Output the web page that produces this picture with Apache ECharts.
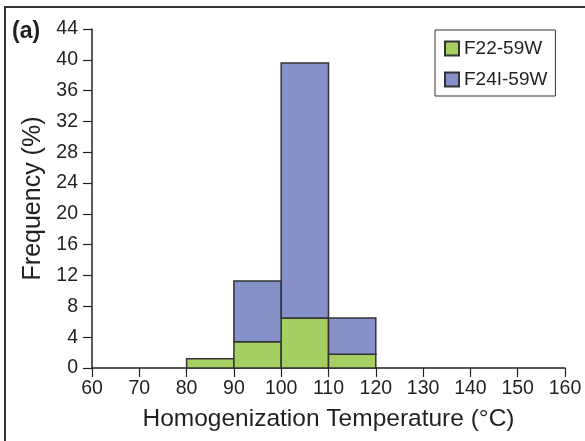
<!DOCTYPE html>
<html>
<head>
<meta charset="utf-8">
<script src="https://cdn.jsdelivr.net/npm/echarts@6/dist/echarts.min.js"></script>
<style>
  html, body { margin: 0; padding: 0; background: #fff; }
  #chart { width: 585px; height: 441px; }
</style>
</head>
<body>
<div id="chart"></div>
<script>
// histogram bins (°C) and frequencies (%)
const binLo = [80, 90, 100, 110];
const binHi = [90, 100, 110, 120];
const f22 = [1.2, 3.4, 6.5, 1.8];
const f24 = [0, 7.9, 33.1, 4.7];
const xTicks = [60, 70, 80, 90, 100, 110, 120, 130, 140, 150, 160];
const yTicks = [0, 4, 8, 12, 16, 20, 24, 28, 32, 36, 40, 44];

const FONT = 'Liberation Sans';
const TXT = '#231f20';
const green = '#a6cf62';
const blue = '#8591c8';

// stack the two series by hand: [lo, hi, base, top]
const greenData = binLo.map((lo, i) => [lo, binHi[i], 0, f22[i]]);
const blueData = binLo.map((lo, i) => [lo, binHi[i], f22[i], f22[i] + f24[i]]);

function renderBin(params, api) {
  const base = api.value(2), top = api.value(3);
  if (top <= base) return null;
  const p0 = api.coord([api.value(0), top]);
  const p1 = api.coord([api.value(1), base]);
  return {
    type: 'rect',
    shape: { x: p0[0], y: p0[1], width: p1[0] - p0[0], height: p1[1] - p0[1] },
    style: api.style()
  };
}

const chart = echarts.init(document.getElementById('chart'));
chart.setOption({
  animation: false,
  textStyle: { fontFamily: FONT, color: TXT },
  grid: { left: 92, right: 20, top: 29, bottom: 73 },
  graphic: [
    {
      type: 'rect', z: -1, silent: true,
      shape: { x: 5, y: 7, width: 620, height: 460 },
      style: { fill: 'none', stroke: '#333', lineWidth: 2 }
    },
    {
      type: 'text', left: 12, top: 20,
      style: { text: '(a)', font: 'bold 23px "Liberation Sans"', fill: TXT }
    }
  ],
  legend: {
    orient: 'vertical',
    left: 435, top: 30,
    width: 100,
    padding: [9, 8, 7, 9],
    itemGap: 12,
    itemWidth: 14, itemHeight: 14,
    borderColor: '#333', borderWidth: 1,
    icon: 'rect',
    textStyle: { fontFamily: FONT, fontSize: 19, color: TXT },
    data: ['F22-59W', 'F24I-59W']
  },
  xAxis: {
    type: 'value',
    min: xTicks[0], max: xTicks[xTicks.length - 1], interval: 10,
    name: 'Homogenization Temperature (°C)',
    nameLocation: 'middle', nameGap: 39,
    nameTextStyle: { fontFamily: FONT, fontSize: 24.5, color: TXT },
    axisLine: { onZero: false, lineStyle: { color: '#222', width: 1.5 } },
    axisTick: { show: true, length: 9, lineStyle: { color: '#222', width: 1.2 } },
    axisLabel: { margin: 11, fontSize: 19.5, color: TXT, fontFamily: FONT },
    splitLine: { show: false }
  },
  yAxis: {
    type: 'value',
    min: yTicks[0], max: yTicks[yTicks.length - 1], interval: 4,
    name: 'Frequency (%)',
    nameLocation: 'middle', nameGap: 38,
    nameTextStyle: { fontFamily: FONT, fontSize: 25, color: TXT },
    axisLine: { show: true, lineStyle: { color: '#222', width: 1.5 } },
    axisTick: { show: true, length: 9, lineStyle: { color: '#222', width: 1.2 } },
    axisLabel: { margin: 14, fontSize: 19.5, color: TXT, fontFamily: FONT },
    splitLine: { show: false }
  },
  series: [
    {
      name: 'F22-59W', type: 'custom', renderItem: renderBin,
      encode: { x: [0, 1], y: [2, 3] },
      itemStyle: { color: green, borderColor: '#333', borderWidth: 1.5 },
      data: greenData
    },
    {
      name: 'F24I-59W', type: 'custom', renderItem: renderBin,
      encode: { x: [0, 1], y: [2, 3] },
      itemStyle: { color: blue, borderColor: '#333', borderWidth: 1.5 },
      data: blueData
    }
  ]
});
</script>
</body>
</html>
